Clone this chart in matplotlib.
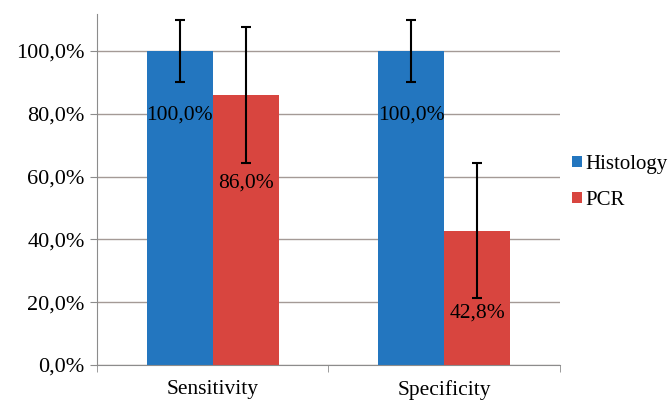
import matplotlib.pyplot as plt
import numpy as np
from matplotlib.ticker import FuncFormatter

categories = ["Sensitivity", "Specificity"]
series = ["Histology", "PCR"]
histology = [100.0, 100.0]
pcr = [86.0, 42.8]
histology_err = [10.0, 10.0]
pcr_err = [21.7, 21.5]
value_labels_h = ["100,0%", "100,0%"]
value_labels_p = ["86,0%", "42,8%"]

plt.rcParams["font.family"] = ["Liberation Serif", "DejaVu Serif"]

fig = plt.figure(figsize=(6.69, 4.04), dpi=100)
ax = fig.add_axes([0.145, 0.0965, 0.692, 0.869])

x = np.arange(len(categories))
w = 0.285
blue = "#2376bf"
red = "#d8453f"
ax.bar(x - w / 2, histology, width=w, color=blue, label=series[0], zorder=2)
ax.bar(x + w / 2, pcr, width=w, color=red, label=series[1], zorder=2)
ax.errorbar(x - w / 2, histology, yerr=histology_err, fmt="none", ecolor="black",
            elinewidth=1.5, capsize=3.5, capthick=1.5, zorder=3)
ax.errorbar(x + w / 2, pcr, yerr=pcr_err, fmt="none", ecolor="black",
            elinewidth=1.5, capsize=3.5, capthick=1.5, zorder=3)

# value labels, placed as in the original
label_y_h = [79.6, 79.6]
label_y_p = [58.0, 16.5]
for i in range(len(categories)):
    ax.text(x[i] - w / 2, label_y_h[i], value_labels_h[i], ha="center", va="center",
            fontsize=15.5, zorder=4)
    ax.text(x[i] + w / 2, label_y_p[i], value_labels_p[i], ha="center", va="center",
            fontsize=15.5, zorder=4)

ax.set_xlim(-0.5, 1.5)
ax.set_ylim(0, 111.8)
ax.set_yticks(np.arange(0, 101, 20))
ax.yaxis.set_major_formatter(FuncFormatter(lambda v, p: f"{v:.1f}%".replace(".", ",")))
ax.set_xticks(x)
ax.set_xticklabels(categories)
ax.set_xticks([-0.5, 0.5, 1.5], minor=True)
ax.tick_params(axis="x", which="major", length=0, pad=11, labelsize=15.5)
ax.tick_params(axis="x", which="minor", length=5, color="#8c8c8c")
ax.tick_params(axis="y", length=5, color="#8c8c8c", labelsize=16, pad=4)

ax.yaxis.grid(True, color="#a49a96", linewidth=1.0, zorder=0)
ax.set_axisbelow(True)
for s in ["top", "right"]:
    ax.spines[s].set_visible(False)
ax.spines["left"].set_color("#8c8c8c")
ax.spines["bottom"].set_color("#8c8c8c")

ax.legend(loc="center left", bbox_to_anchor=(1.0, 0.52), frameon=False, fontsize=15,
          handlelength=0.45, handleheight=0.45, handletextpad=0.15, labelspacing=0.8,
          borderaxespad=0.2)

fig.savefig("out.png", dpi=100)
